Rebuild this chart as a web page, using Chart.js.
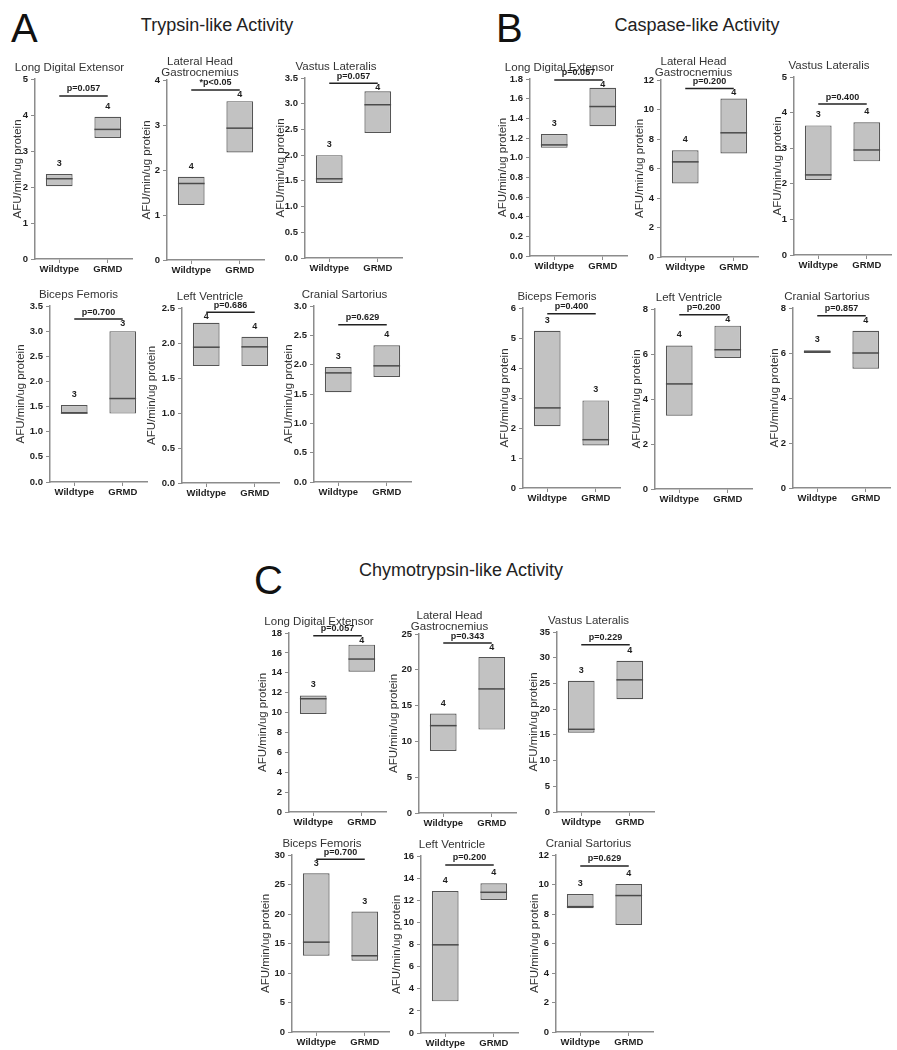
<!DOCTYPE html>
<html>
<head>
<meta charset="utf-8">
<script src="https://cdn.jsdelivr.net/npm/chart.js@4.4.1/dist/chart.umd.min.js"></script>
<style>
  body { margin: 0; background: #fff; font-family: "Liberation Sans", Arial, sans-serif; }
  #page { position: relative; width: 897px; height: 1050px; overflow: hidden; }
  #page canvas { position: absolute; }
  .letter { position: absolute; font-size: 40px; line-height: 40px; color: #111; }
  .heading { position: absolute; width: 300px; text-align: center; font-size: 18px; line-height: 18px; color: #222; }
</style>
</head>
<body>
<div id="page">
  <div class="letter" style="left:11px;top:8px">A</div>
  <div class="letter" style="left:496px;top:8px">B</div>
  <div class="letter" style="left:254px;top:560px">C</div>
  <div class="heading" style="left:67px;top:16px">Trypsin-like Activity</div>
  <div class="heading" style="left:547px;top:16px">Caspase-like Activity</div>
  <div class="heading" style="left:311px;top:561px">Chymotrypsin-like Activity</div>
</div>
<script>
// order: A1..A6 (trypsin), B1..B6 (caspase), C1..C6 (chymotrypsin)
const groups = ['Wildtype', 'GRMD'];
const titles = [
  'Long Digital Extensor', ['Lateral Head', 'Gastrocnemius'], 'Vastus Lateralis',
  'Biceps Femoris', 'Left Ventricle', 'Cranial Sartorius',
  'Long Digital Extensor', ['Lateral Head', 'Gastrocnemius'], 'Vastus Lateralis',
  'Biceps Femoris', 'Left Ventricle', 'Cranial Sartorius',
  'Long Digital Extensor', ['Lateral Head', 'Gastrocnemius'], 'Vastus Lateralis',
  'Biceps Femoris', 'Left Ventricle', 'Cranial Sartorius'
];
const yMax     = [5, 4, 3.5, 3.5, 2.5, 3.0,   1.8, 12, 5, 6, 8, 8,   18, 25, 35, 30, 16, 12];
const yStep    = [1, 1, 0.5, 0.5, 0.5, 0.5,   0.2, 2, 1, 1, 2, 2,    2, 5, 5, 5, 2, 2];
const decimals = [0, 0, 1, 1, 1, 1,           1, 0, 0, 0, 0, 0,      0, 0, 0, 0, 0, 0];

const wtLow  = [2.02, 1.22, 1.46, 1.37, 1.67, 1.53,   1.10, 4.98, 2.11, 2.06, 3.26, 6.00,   9.85, 8.67, 15.43, 12.92, 2.86, 8.39];
const wtMed  = [2.23, 1.70, 1.54, 1.37, 1.94, 1.86,   1.13, 6.45, 2.25, 2.67, 4.67, 6.05,   11.39, 12.2, 16.08, 15.23, 7.97, 8.50];
const wtHigh = [2.36, 1.85, 2.00, 1.53, 2.29, 1.96,   1.24, 7.24, 3.64, 5.24, 6.38, 6.12,   11.72, 13.88, 25.5, 26.9, 12.84, 9.36];
const grLow  = [3.36, 2.39, 2.43, 1.36, 1.67, 1.79,   1.32, 7.02, 2.63, 1.42, 5.82, 5.30,   14.1, 11.65, 21.93, 12.07, 12.03, 7.26];
const grMed  = [3.60, 2.93, 2.98, 1.66, 1.945, 1.98,  1.52, 8.42, 2.95, 1.61, 6.19, 6.00,   15.38, 17.33, 25.7, 12.92, 12.72, 9.25];
const grHigh = [3.95, 3.53, 3.24, 3.00, 2.09, 2.33,   1.71, 10.75, 3.73, 2.92, 7.26, 6.99,  16.83, 21.8, 29.4, 20.42, 13.53, 10.04];
const nWT = [3, 4, 3, 3, 4, 3,   3, 4, 3, 3, 4, 3,   3, 4, 3, 3, 4, 3];
const nGR = [4, 4, 4, 3, 4, 4,   4, 4, 4, 3, 4, 4,   4, 4, 4, 3, 4, 4];
const pLabel = ['p=0.057', '*p<0.05', 'p=0.057', 'p=0.700', 'p=0.686', 'p=0.629',
                'p=0.057', 'p=0.200', 'p=0.400', 'p=0.400', 'p=0.200', 'p=0.857',
                'p=0.057', 'p=0.343', 'p=0.229', 'p=0.700', 'p=0.200', 'p=0.629'];
const bracketAt = [4.53, 3.78, 3.40, 3.24, 2.44, 2.68,   1.79, 11.43, 4.24, 5.81, 7.75, 7.66,   17.73, 23.74, 32.5, 29.3, 15.19, 11.26];

// layout: y-axis x, plot top, plot bottom, y-axis box width
const axisX  = [35, 167, 305, 50, 182, 314,   530, 661, 794, 523, 655, 793,   289, 419, 557, 292, 421, 556];
const plotTop = [79, 80, 78, 306, 308, 306,   79, 80, 77, 308, 309, 308,     633, 634, 632, 855, 856, 855];
const plotBot = [259, 260, 258, 482, 483, 482, 256, 257, 255, 488, 489, 488, 812, 813, 812, 1032, 1033, 1032];
const yAxisW = [28, 31, 35, 40, 41, 36,   38, 32, 27, 29, 29, 29,   37, 36, 34, 37, 35, 32];
const PLOT_W = 97, TOP_SPACE = 42, X_AXIS_H = 22;

const page = document.getElementById('page');
const axisColor = '#8c8c8c';
const textColor = '#1e1e1e';
const fontFamily = '"Liberation Sans", Arial, sans-serif';

function boxPlot(i) {
  const canvas = document.createElement('canvas');
  const yw = yAxisW[i];
  const w = 2 * yw + PLOT_W + 10;
  const h = TOP_SPACE + (plotBot[i] - plotTop[i]) + X_AXIS_H;
  canvas.width = w;
  canvas.height = h;
  canvas.style.left = (axisX[i] - yw) + 'px';
  canvas.style.top = (plotTop[i] - TOP_SPACE) + 'px';
  page.appendChild(canvas);

  const twoLines = Array.isArray(titles[i]);
  const titlePadBottom = twoLines ? 1 : 5.25;
  const titleH = (twoLines ? 23 : 11.5) + titlePadBottom;

  const annotate = {
    id: 'annotate' + i,
    afterDatasetsDraw(chart) {
      const ctx = chart.ctx;
      const y = chart.scales.y;
      const bars = chart.getDatasetMeta(0).data;
      const meds = [wtMed[i], grMed[i]];
      const ns = [nWT[i], nGR[i]];
      const by = y.getPixelForValue(bracketAt[i]);
      ctx.save();
      ctx.font = 'bold 9px ' + fontFamily;
      ctx.textAlign = 'center';
      ctx.textBaseline = 'middle';
      bars.forEach((bar, k) => {
        const my = y.getPixelForValue(meds[k]);
        ctx.strokeStyle = '#4a4a4a';
        ctx.lineWidth = 1.5;
        ctx.beginPath();
        ctx.moveTo(bar.x - bar.width / 2, my);
        ctx.lineTo(bar.x + bar.width / 2, my);
        ctx.stroke();
        const top = Math.min(bar.y, bar.base);
        const ly = Math.max(top - 10.5, by + 4.5);
        ctx.fillStyle = textColor;
        ctx.fillText(String(ns[k]), bar.x, ly);
      });
      const x0 = bars[0].x, x1 = bars[1].x;
      ctx.strokeStyle = '#222';
      ctx.lineWidth = 1.5;
      ctx.beginPath();
      ctx.moveTo(x0, by);
      ctx.lineTo(x1, by);
      ctx.stroke();
      ctx.fillStyle = textColor;
      ctx.fillText(pLabel[i], (x0 + x1) / 2, by - 7);
      ctx.restore();
    }
  };

  new Chart(canvas, {
    type: 'bar',
    data: {
      labels: groups,
      datasets: [{
        data: [[wtLow[i], wtHigh[i]], [grLow[i], grHigh[i]]],
        backgroundColor: '#c2c2c2',
        borderColor: '#555',
        borderWidth: 1.2,
        borderSkipped: false,
        barPercentage: 0.55,
        categoryPercentage: 1
      }]
    },
    options: {
      responsive: false,
      animation: false,
      layout: { padding: { top: TOP_SPACE - titleH, left: 0, right: yw + 10, bottom: 0 } },
      plugins: {
        legend: { display: false },
        tooltip: { enabled: false },
        title: {
          display: true,
          text: titles[i],
          color: '#333',
          font: { family: fontFamily, size: 11.5, weight: 'normal', lineHeight: 1.0 },
          padding: { top: 0, bottom: titlePadBottom }
        }
      },
      scales: {
        x: {
          offset: true,
          border: { color: axisColor, width: 1.5 },
          grid: { display: true, drawOnChartArea: false, offset: false, tickLength: 4, color: axisColor },
          ticks: { color: textColor, padding: 1, font: { family: fontFamily, size: 9.5, weight: 'bold' } },
          afterFit: (scale) => { scale.height = X_AXIS_H; }
        },
        y: {
          min: 0,
          max: yMax[i],
          border: { color: axisColor, width: 1.5 },
          grid: { display: true, drawOnChartArea: false, tickLength: 4, color: axisColor },
          ticks: {
            stepSize: yStep[i],
            autoSkip: false,
            color: textColor,
            padding: 3,
            font: { family: fontFamily, size: 9.5, weight: 'bold' },
            callback: (v) => Number(v).toFixed(decimals[i])
          },
          title: {
            display: true,
            text: 'AFU/min/ug protein',
            color: '#333',
            padding: { top: 4, bottom: 4 },
            font: { family: fontFamily, size: 11.5, weight: 'normal' }
          },
          afterFit: (scale) => { scale.width = yw; }
        }
      }
    },
    plugins: [annotate]
  });
}

for (let i = 0; i < titles.length; i++) boxPlot(i);
</script>
</body>
</html>
